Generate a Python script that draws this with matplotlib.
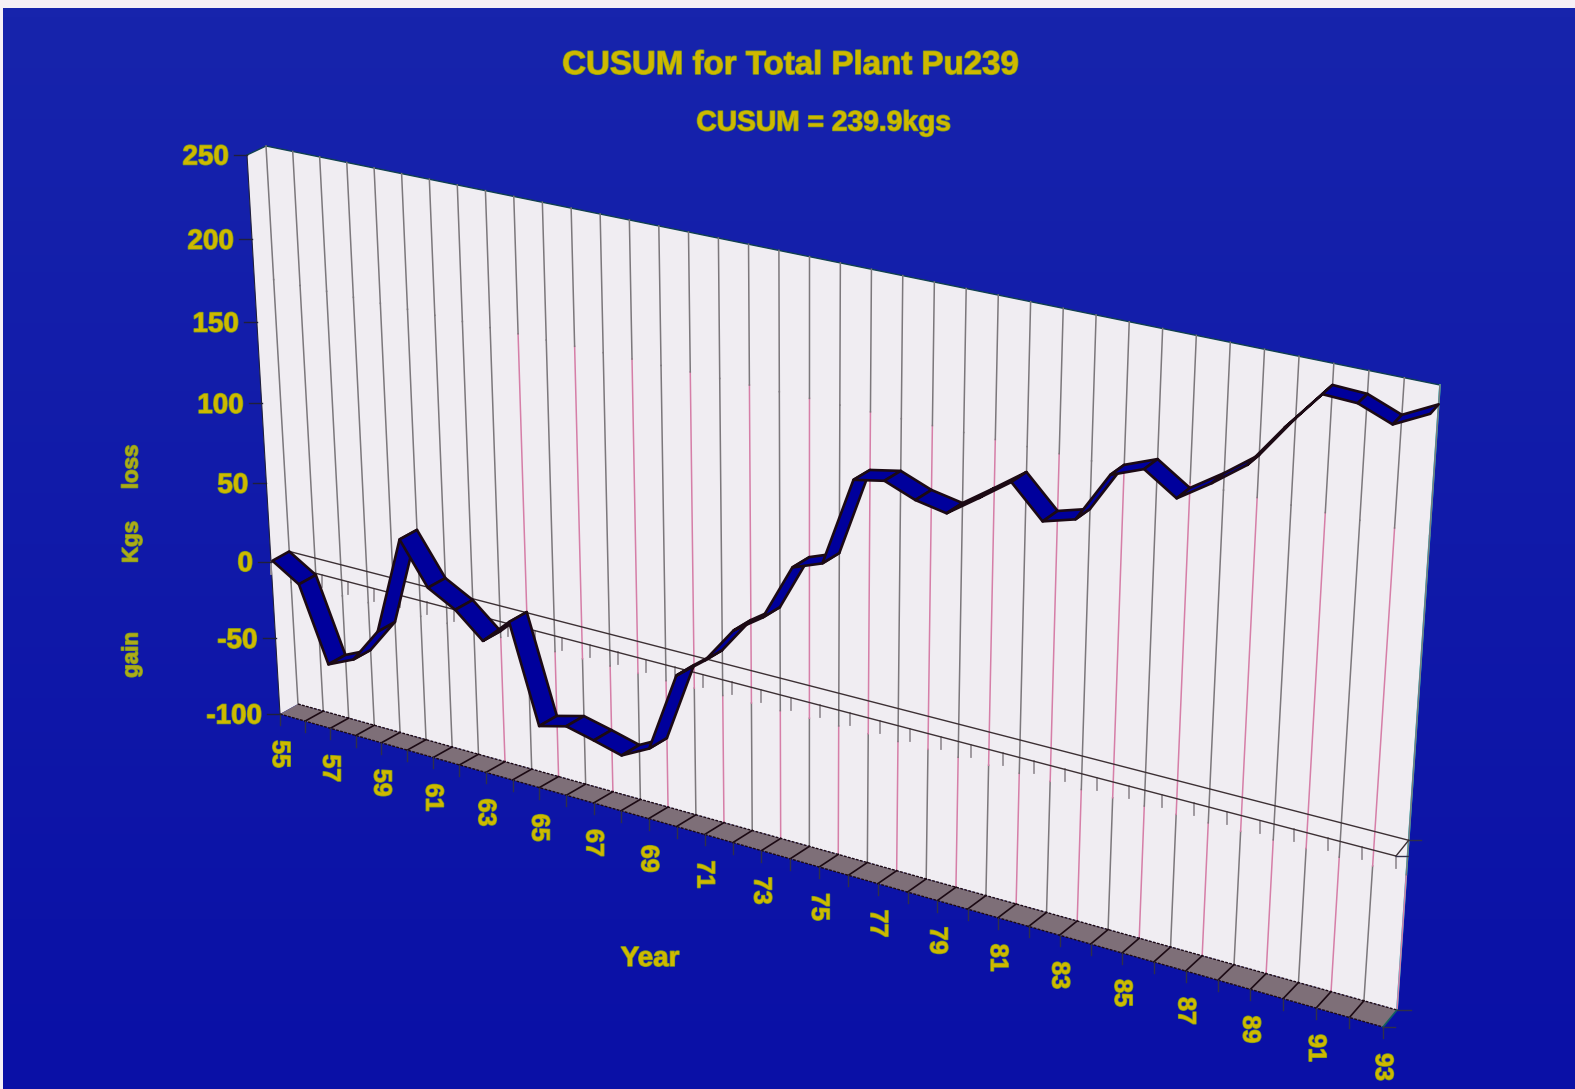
import numpy as np
import matplotlib
matplotlib.use("Agg")
import matplotlib.pyplot as plt
import matplotlib.patheffects as pe
from matplotlib.colors import LinearSegmentedColormap

plt.rcParams['font.family'] = ['Liberation Sans', 'DejaVu Sans']

# CUSUM in kgs, one value per year 1955-1993
years = list(range(55, 94))
cusum = [0.0, -10.9, -58.4, -50.6, -28.0, 34.8, 8.7, -0.8, -16.0, 0.4,
         -60.9, -56.3, -60.5, -65.2, -56.0, -5.7, 8.1, 30.9, 43.2, 77.4,
         84.1, 136.7, 140.2, 133.3, 129.9, 142.6, 155.7, 137.8, 143.1, 171.8,
         179.0, 167.1, 179.4, 193.3, 217.1, 238.6, 237.7, 230.5, 239.9]
value_ticks = [250, 200, 150, 100, 50, 0, -50, -100]
year_ticks = years[::2]

YMIN, YMAX = -100, 250
X0, X1 = years[0], years[-1]

YELLOW = '#cfb800'
OLIVE = '#aeaa18'
WALL = '#f0edf2'
FLOOR = '#7e6f78'
NAVY = '#00009c'
DARK = '#1c0a14'
GRID_GRAY = '#7c787c'
GRID_PINK = '#d67fa8'


def homography(bl, br, tr, tl):
    # plane corners in pixels -> 3x3 matrix from (u, v) in the unit square
    src = [(0, 0), (1, 0), (1, 1), (0, 1)]
    dst = [bl, br, tr, tl]
    a, b = [], []
    for (u, v), (x, y) in zip(src, dst):
        a.append([u, v, 1, 0, 0, 0, -u * x, -v * x])
        a.append([0, 0, 0, u, v, 1, -u * y, -v * y])
        b += [x, y]
    h = np.linalg.solve(np.array(a, float), np.array(b, float))
    return np.append(h, 1).reshape(3, 3)


# back wall and front plane of the 3-D box
BACK = homography((298, 704), (1397, 1010), (1440, 385), (266, 146))
FRONT = homography((280, 714), (1383, 1027), (1431, 395), (247, 155))
RIBBON_DEPTH = 0.92


def project(h, year, value):
    u = (np.asarray(year, float) - X0) / (X1 - X0)
    v = (np.asarray(value, float) - YMIN) / (YMAX - YMIN)
    w = h[2, 0] * u + h[2, 1] * v + 1
    return (h[0, 0] * u + h[0, 1] * v + h[0, 2]) / w, (h[1, 0] * u + h[1, 1] * v + h[1, 2]) / w


fig = plt.figure(figsize=(15.75, 10.89), dpi=100)
ax = fig.add_axes([0, 0, 1, 1])
ax.set_xlim(0, 1575)
ax.set_ylim(1089, 0)
ax.axis('off')

# background
bg = LinearSegmentedColormap.from_list('bg', ['#1724ac', '#0a10a6'])
ax.imshow(np.linspace(0, 1, 64).reshape(-1, 1), cmap=bg, extent=(0, 1575, 1089, 0), aspect='auto', zorder=0)
ax.set_xlim(0, 1575)
ax.set_ylim(1089, 0)
ax.fill([0, 1575, 1575, 0], [0, 0, 8, 8], color='#f6f0f6', lw=0, zorder=1)
ax.fill([0, 3, 3, 0], [0, 0, 1089, 1089], color='#f6f0f6', lw=0, zorder=1)

# walls
bx, by = project(BACK, [X0, X1, X1, X0], [YMIN, YMIN, YMAX, YMAX])
fx, fy = project(FRONT, [X0, X0], [YMIN, YMAX])
ax.fill(bx, by, color=WALL, lw=0, zorder=2)
ax.fill([fx[0], bx[0], bx[3], fx[1]], [fy[0], by[0], by[3], fy[1]], color=WALL, lw=0, zorder=2)
ax.plot([fx[1], fx[0]], [fy[1], fy[0]], color='#20203c', lw=0.8, zorder=3)
ax.plot([fx[1], bx[3], bx[2]], [fy[1], by[3], by[2]], color='#104050', lw=1.0, zorder=3)
ax.plot(bx[1:3], by[1:3], color='#18c8c8', lw=1.3, zorder=3)

# floor
fbx, fby = project(FRONT, [X0, X1], [YMIN, YMIN])
ax.fill([fbx[0], bx[0], bx[1], fbx[1]], [fby[0], by[0], by[1], fby[1]], color=FLOOR, lw=0, zorder=3)
ax.plot([fbx[0], fbx[1]], [fby[0], fby[1]], color=DARK, lw=1.0, ls=(0, (2, 1)), zorder=4)
ax.plot([bx[0], bx[1]], [by[0], by[1]], color=DARK, lw=1.0, ls=(0, (2, 1)), zorder=4)
ax.plot([bx[1], fbx[1]], [by[1], fby[1]], color='#106060', lw=1.2, zorder=4)

# year gridlines on the wall, floor dividers and ticks
for i, yr in enumerate(years):
    gx, gy = project(BACK, [yr, yr, yr, yr], [YMIN, -20, 170, YMAX])
    low, mid = (GRID_GRAY, GRID_PINK) if i % 2 else (GRID_PINK, GRID_GRAY)
    if i < 8:
        low = mid = GRID_GRAY
    ax.plot(gx[:2], gy[:2], color=low, lw=1.1, zorder=3)
    ax.plot(gx[1:3], gy[1:3], color=mid, lw=1.1, zorder=3)
    ax.plot(gx[2:], gy[2:], color=GRID_GRAY, lw=1.1, zorder=3)
    x0, y0 = project(FRONT, yr, YMIN)
    if 0 < i < len(years) - 1:
        ax.plot([gx[0], x0], [gy[0], y0], color=DARK, lw=1.2, zorder=4)
    ax.plot([x0, x0], [y0, y0 + 11], color='#30304a', lw=1.0, zorder=4)

fringe = [pe.withStroke(linewidth=1.1, foreground='#7a9c20')]

# value ticks on the front edge
for val in value_ticks:
    x0, y0 = project(FRONT, X0, val)
    ax.plot([x0 - 13, x0], [y0, y0], color='#20203c', lw=1.0, zorder=4)
    ax.text(x0 - 18, y0 + 2.5, str(val), ha='right', va='center', color=YELLOW, fontsize=20, fontweight='bold',
            path_effects=fringe, zorder=6)

# the zero plane
zbx, zby = project(BACK, [X0, X1], [0, 0])
zfx, zfy = project(FRONT, [X0, X1], [0, 0])
ax.plot(zbx, zby, color='#3c3034', lw=1.0, zorder=4)
ax.plot(zfx, zfy, color='#3c3034', lw=1.0, zorder=4)
ax.plot([zbx[1], zfx[1]], [zby[1], zfy[1]], color='#3c3034', lw=1.0, zorder=4)
ax.plot([zbx[1], zbx[1] + 12], [zby[1], zby[1]], color='#30304a', lw=1.0, zorder=4)
ax.plot([zfx[1], zfx[1] + 12], [zfy[1], zfy[1]], color='#30304a', lw=1.0, zorder=4)
ax.plot([bx[1], bx[1] + 14], [by[1], by[1]], color='#30304a', lw=1.0, zorder=4)
ax.plot([fbx[1], fbx[1] + 12], [fby[1], fby[1]], color='#30304a', lw=1.0, zorder=4)
for yr in years:
    x0, y0 = project(FRONT, yr, 0)
    ax.plot([x0, x0], [y0, y0 + 12], color='#989298', lw=1.3, zorder=3)

# CUSUM ribbon
rbx, rby = project(BACK, years, cusum)
wfx, wfy = project(FRONT, years, cusum)
rfx = rbx + RIBBON_DEPTH * (wfx - rbx)
rfy = rby + RIBBON_DEPTH * (wfy - rby)
for i in range(len(years) - 1):
    ax.fill([rbx[i], rbx[i + 1], rfx[i + 1], rfx[i]], [rby[i], rby[i + 1], rfy[i + 1], rfy[i]],
            facecolor=NAVY, edgecolor=DARK, lw=1.9, joinstyle='round', zorder=5)

# year labels under the floor
for yr in year_ticks:
    x0, y0 = project(FRONT, yr, YMIN)
    ax.text(x0, y0 + 40, str(yr), rotation=-90, ha='center', va='center', color=YELLOW, fontsize=18,
            fontweight='bold', zorder=6, path_effects=fringe)

ax.text(790, 65.5, 'CUSUM for Total Plant Pu239', ha='center', va='center', color=YELLOW, fontsize=23.8,
        fontweight='bold', path_effects=fringe, zorder=6)
ax.text(824, 123.5, 'CUSUM = 239.9kgs', ha='center', va='center', color=YELLOW, fontsize=20.3,
        fontweight='bold', path_effects=fringe, zorder=6)
ax.text(650, 959, 'Year', ha='center', va='center', color=YELLOW, fontsize=20,
        fontweight='bold', path_effects=fringe, zorder=6)
for label, yc in [('gain', 655), ('Kgs', 542), ('loss', 467)]:
    ax.text(132, yc, label, rotation=90, ha='center', va='center', color=OLIVE, fontsize=16,
            fontweight='bold', path_effects=fringe, zorder=6)

fig.savefig('out.png', dpi=100)
